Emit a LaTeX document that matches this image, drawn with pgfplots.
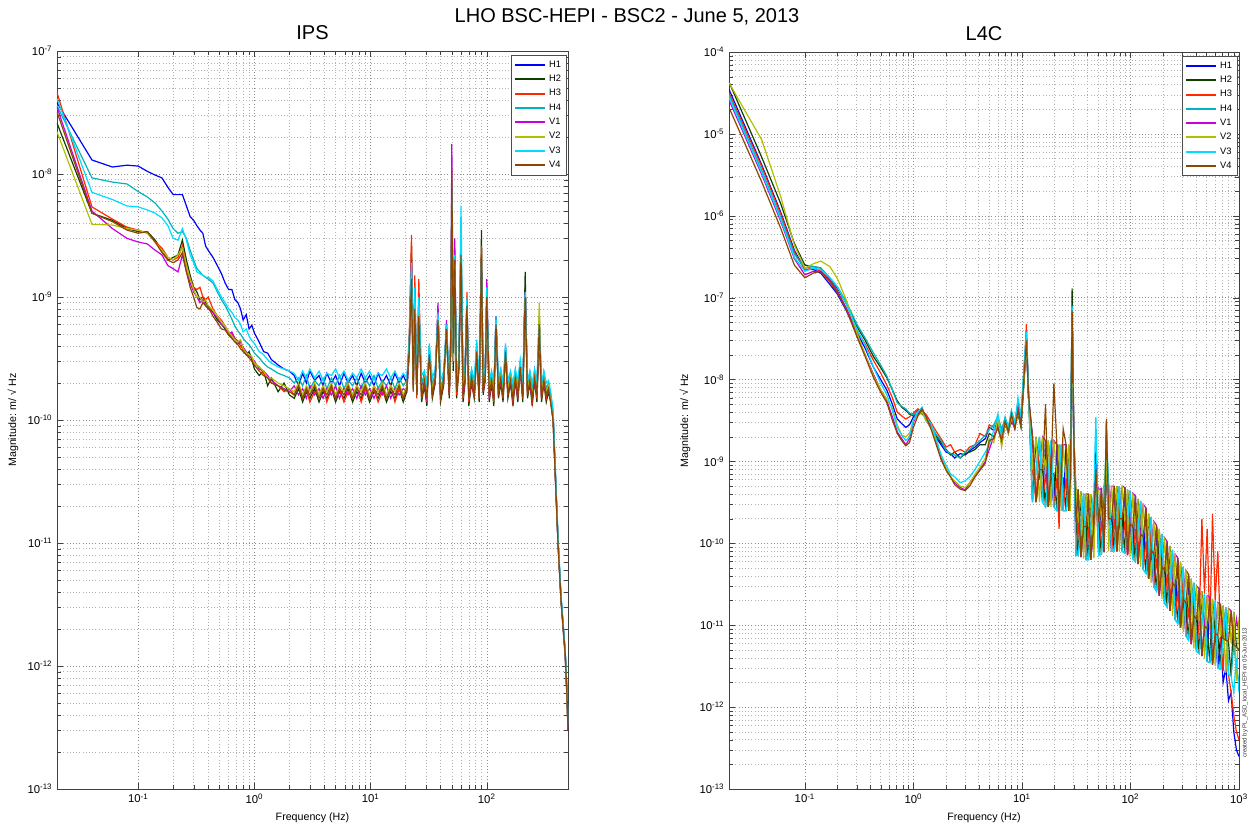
\documentclass[border=0pt]{standalone}
\usepackage{fontspec}
\setmainfont{Liberation Sans}
\usepackage{pgfplots}
\usepackage{pgfplotstable}
\pgfplotsset{compat=1.18}

\definecolor{cHa}{RGB}{0,0,255}
\definecolor{cHb}{RGB}{16,64,0}
\definecolor{cHc}{RGB}{255,40,0}
\definecolor{cHd}{RGB}{0,180,190}
\definecolor{cVa}{RGB}{200,0,220}
\definecolor{cVb}{RGB}{180,190,0}
\definecolor{cVc}{RGB}{0,220,255}
\definecolor{cVd}{RGB}{140,70,0}

% IPS spectra
\pgfplotstableread{
f H1 H2 H3 H4 V1 V2 V3 V4
0.02 3.8e-8 2.6e-8 4.6e-8 3.6e-8 3.5e-8 2.2e-8 4.1e-8 3.2e-8
0.04 1.3e-8 4.8e-9 5.4e-9 9.3e-9 5.0e-9 3.9e-9 7.1e-9 4.8e-9
0.06 1.14e-8 4.2e-9 4.3e-9 8.6e-9 3.6e-9 3.85e-9 6.2e-9 4.1e-9
0.08 1.18e-8 3.6e-9 3.7e-9 8.3e-9 3.0e-9 3.6e-9 5.5e-9 3.5e-9
0.10 1.16e-8 3.4e-9 3.5e-9 7.2e-9 2.8e-9 3.5e-9 5.4e-9 3.3e-9
0.12 1.05e-8 3.4e-9 3.3e-9 6.5e-9 2.7e-9 3.3e-9 5.1e-9 3.4e-9
0.14 9.8e-9 2.9e-9 2.8e-9 5.8e-9 2.4e-9 2.8e-9 4.8e-9 2.8e-9
0.16 9.3e-9 2.4e-9 2.5e-9 5.0e-9 2.2e-9 2.4e-9 4.4e-9 2.3e-9
0.18 7.8e-9 2.0e-9 2.1e-9 4.3e-9 1.8e-9 2.1e-9 3.8e-9 2.0e-9
0.20 6.8e-9 2.1e-9 2.0e-9 3.6e-9 1.7e-9 2.0e-9 3.0e-9 1.9e-9
0.22 6.8e-9 2.2e-9 2.1e-9 3.3e-9 1.6e-9 2.2e-9 2.9e-9 2.0e-9
0.24 6.8e-9 2.9e-9 2.6e-9 3.4e-9 2.2e-9 2.5e-9 3.6e-9 2.3e-9
0.26 5.5e-9 2.0e-9 1.8e-9 3.0e-9 1.6e-9 1.8e-9 2.9e-9 1.6e-9
0.28 4.5e-9 1.5e-9 1.4e-9 2.4e-9 1.3e-9 1.4e-9 2.2e-9 1.2e-9
0.30 4.2e-9 1.2e-9 1.2e-9 2.0e-9 1.1e-9 1.15e-9 1.9e-9 1.0e-9
0.32 3.8e-9 1.1e-9 1.15e-9 1.7e-9 1.0e-9 1.0e-9 1.6e-9 8.2e-10
0.34 3.5e-9 9.5e-10 1.2e-9 1.6e-9 9.0e-10 1.0e-9 1.55e-9 8.0e-10
0.36 3.3e-9 1.0e-9 1.0e-9 1.5e-9 9.5e-10 9.0e-10 1.5e-9 9.0e-10
0.38 2.6e-9 9.0e-10 9.5e-10 1.45e-9 8.5e-10 9.5e-10 1.45e-9 8.5e-10
0.40 2.4e-9 8.5e-10 1.0e-9 1.4e-9 8.0e-10 8.5e-10 1.45e-9 8.3e-10
0.44 2.1e-9 7.5e-10 8.0e-10 1.3e-9 7.5e-10 7.8e-10 1.35e-9 7.0e-10
0.48 1.8e-9 6.5e-10 7.0e-10 1.1e-9 6.8e-10 7.0e-10 1.15e-9 6.2e-10
0.52 1.55e-9 6.0e-10 6.5e-10 9.5e-10 6.0e-10 6.3e-10 1.0e-9 5.5e-10
0.56 1.3e-9 5.5e-10 5.8e-10 8.5e-10 5.6e-10 5.8e-10 9.0e-10 5.4e-10
0.60 1.15e-9 5.0e-10 5.2e-10 7.5e-10 5.0e-10 5.2e-10 8.0e-10 4.9e-10
0.64 1.15e-9 4.7e-10 5.0e-10 6.6e-10 5.2e-10 4.8e-10 7.5e-10 4.6e-10
0.68 9.5e-10 4.5e-10 4.6e-10 5.8e-10 4.6e-10 4.5e-10 6.8e-10 4.3e-10
0.72 9.0e-10 4.2e-10 4.4e-10 5.3e-10 4.2e-10 4.3e-10 6.5e-10 4.1e-10
0.76 8.0e-10 4.4e-10 4.0e-10 5.0e-10 4.3e-10 4.5e-10 6.0e-10 3.8e-10
0.80 6.5e-10 3.7e-10 3.8e-10 4.6e-10 3.9e-10 3.8e-10 5.2e-10 3.6e-10
0.85 7.2e-10 3.4e-10 3.5e-10 4.3e-10 3.6e-10 3.5e-10 5.5e-10 3.4e-10
0.90 5.5e-10 3.6e-10 3.3e-10 4.1e-10 3.3e-10 3.4e-10 4.8e-10 3.2e-10
0.95 5.9e-10 3.1e-10 3.2e-10 3.8e-10 3.2e-10 3.3e-10 4.4e-10 3.0e-10
1.0 5.1e-10 2.6e-10 2.9e-10 3.5e-10 3.0e-10 2.9e-10 4.2e-10 2.8e-10
1.1 4.3e-10 2.3e-10 2.7e-10 3.2e-10 2.6e-10 2.7e-10 3.6e-10 2.5e-10
1.2 3.6e-10 2.5e-10 2.4e-10 2.9e-10 2.5e-10 2.5e-10 3.4e-10 2.3e-10
1.3 3.5e-10 1.9e-10 2.2e-10 2.7e-10 2.3e-10 2.2e-10 3.1e-10 2.2e-10
1.4 3.1e-10 2.2e-10 2.0e-10 2.6e-10 2.1e-10 2.2e-10 2.9e-10 2.0e-10
1.6 2.8e-10 1.7e-10 1.9e-10 2.4e-10 1.9e-10 2.0e-10 2.7e-10 1.9e-10
1.8 2.6e-10 2.0e-10 1.7e-10 2.3e-10 1.8e-10 1.9e-10 2.6e-10 1.75e-10
2.0 2.5e-10 1.6e-10 1.8e-10 2.2e-10 1.7e-10 1.8e-10 2.5e-10 1.7e-10
2.2 2.3e-10 1.5e-10 1.6e-10 2.0e-10 1.9e-10 1.7e-10 2.4e-10 1.6e-10
2.4 1.9e-10 1.8e-10 1.9e-10 2.2e-10 1.6e-10 2.0e-10 2.1e-10 1.9e-10
2.6 2.4e-10 1.4e-10 1.5e-10 1.9e-10 1.8e-10 1.6e-10 2.5e-10 1.5e-10
2.8 2.0e-10 1.7e-10 1.8e-10 2.3e-10 1.5e-10 1.9e-10 2.2e-10 1.8e-10
3.0 2.5e-10 1.5e-10 1.4e-10 1.8e-10 1.9e-10 1.7e-10 2.6e-10 1.6e-10
3.3 2.1e-10 1.8e-10 1.7e-10 2.1e-10 1.6e-10 2.0e-10 2.2e-10 1.9e-10
3.6 2.3e-10 1.4e-10 1.6e-10 1.9e-10 1.8e-10 1.6e-10 2.5e-10 1.5e-10
3.9 1.9e-10 1.7e-10 1.9e-10 2.2e-10 1.5e-10 1.9e-10 2.1e-10 1.8e-10
4.2 2.4e-10 1.5e-10 1.4e-10 1.8e-10 1.8e-10 1.7e-10 2.4e-10 1.6e-10
4.6 2.0e-10 1.8e-10 1.8e-10 2.2e-10 1.6e-10 2.0e-10 2.3e-10 1.9e-10
5.0 2.3e-10 1.4e-10 1.5e-10 1.9e-10 1.9e-10 1.6e-10 2.6e-10 1.5e-10
5.4 1.9e-10 1.7e-10 1.8e-10 2.3e-10 1.5e-10 1.9e-10 2.2e-10 1.8e-10
5.9 2.4e-10 1.5e-10 1.4e-10 1.8e-10 1.8e-10 1.7e-10 2.5e-10 1.6e-10
6.4 2.0e-10 1.8e-10 1.7e-10 2.1e-10 1.6e-10 2.0e-10 2.1e-10 1.9e-10
7.0 2.3e-10 1.4e-10 1.5e-10 1.9e-10 1.8e-10 1.6e-10 2.4e-10 1.5e-10
7.6 1.9e-10 1.7e-10 1.9e-10 2.2e-10 1.5e-10 1.9e-10 2.2e-10 1.8e-10
8.3 2.4e-10 1.5e-10 1.4e-10 1.8e-10 1.9e-10 1.7e-10 2.6e-10 1.6e-10
9.0 2.0e-10 1.8e-10 1.8e-10 2.2e-10 1.6e-10 2.0e-10 2.2e-10 1.9e-10
9.8 2.3e-10 1.4e-10 1.5e-10 1.9e-10 1.8e-10 1.6e-10 2.5e-10 1.5e-10
10.7 1.9e-10 1.7e-10 1.8e-10 2.3e-10 1.5e-10 1.9e-10 2.1e-10 1.8e-10
11.6 2.4e-10 1.5e-10 1.4e-10 1.8e-10 1.8e-10 1.7e-10 2.4e-10 1.6e-10
12.6 2.0e-10 1.8e-10 1.7e-10 2.1e-10 1.6e-10 2.0e-10 2.3e-10 1.9e-10
13.7 2.3e-10 1.4e-10 1.5e-10 1.9e-10 1.9e-10 1.6e-10 2.6e-10 1.5e-10
14.9 1.9e-10 1.7e-10 1.9e-10 2.2e-10 1.5e-10 1.9e-10 2.2e-10 1.8e-10
16.2 2.4e-10 1.5e-10 1.4e-10 1.8e-10 1.8e-10 1.7e-10 2.5e-10 1.6e-10
17.6 2.0e-10 1.8e-10 1.8e-10 2.2e-10 1.6e-10 2.0e-10 2.1e-10 1.9e-10
19.1 2.3e-10 1.4e-10 1.5e-10 1.9e-10 1.8e-10 1.6e-10 2.4e-10 1.5e-10
20.5 2.0e-10 1.7e-10 1.8e-10 2.1e-10 1.7e-10 1.9e-10 2.2e-10 1.8e-10
21.5 4.0e-10 3.5e-10 5.0e-10 4.0e-10 3.5e-10 4.0e-10 4.5e-10 3.8e-10
22.5 1.5e-9 2.6e-9 3.2e-9 1.8e-9 2.0e-9 1.6e-9 1.9e-9 1.4e-9
23.3 2.0e-10 1.8e-10 2.2e-10 2.3e-10 1.9e-10 1.8e-10 2.5e-10 1.7e-10
24.0 9.0e-10 1.2e-9 1.5e-9 1.0e-9 1.1e-9 1.0e-9 1.2e-9 8.0e-10
25.0 1.8e-10 1.6e-10 1.5e-10 2.0e-10 1.7e-10 1.8e-10 2.2e-10 1.6e-10
26.0 7.0e-10 9.0e-10 1.4e-9 8.0e-10 8.5e-10 7.0e-10 1.0e-9 7.0e-10
27.5 1.7e-10 1.4e-10 1.5e-10 2.0e-10 1.6e-10 1.7e-10 2.3e-10 1.5e-10
29.0 2.4e-10 1.9e-10 2.0e-10 2.3e-10 2.0e-10 2.2e-10 2.5e-10 2.1e-10
30.5 1.6e-10 1.3e-10 1.4e-10 1.8e-10 1.5e-10 1.6e-10 2.0e-10 1.5e-10
32.0 3.5e-10 4.0e-10 3.8e-10 3.2e-10 3.6e-10 3.3e-10 4.2e-10 3.4e-10
34.0 1.7e-10 1.5e-10 1.6e-10 1.9e-10 1.7e-10 1.8e-10 2.2e-10 1.6e-10
36.0 2.4e-10 2.0e-10 2.1e-10 2.4e-10 2.0e-10 2.2e-10 2.6e-10 2.2e-10
38.0 6.0e-10 8.0e-10 7.0e-10 6.5e-10 9.0e-10 6.0e-10 7.5e-10 6.5e-10
40.0 1.6e-10 1.4e-10 1.5e-10 1.8e-10 1.6e-10 1.7e-10 2.1e-10 1.5e-10
42.5 2.3e-10 1.9e-10 2.0e-10 2.3e-10 2.0e-10 2.1e-10 2.5e-10 2.1e-10
45.0 5.0e-10 6.0e-10 5.5e-10 4.5e-10 6.5e-10 5.0e-10 6.0e-10 5.5e-10
47.5 1.7e-10 1.5e-10 1.6e-10 1.9e-10 1.7e-10 1.8e-10 2.2e-10 1.6e-10
49.0 4.0e-10 3.5e-10 4.5e-10 4.0e-10 5.0e-10 4.0e-10 5.0e-10 4.5e-10
50.0 5.0e-9 7.0e-9 6.0e-9 5.5e-9 1.75e-8 6.0e-9 9.0e-9 1.1e-8
51.5 3.0e-10 2.5e-10 3.0e-10 3.2e-10 4.0e-10 3.0e-10 3.5e-10 3.5e-10
53.0 1.5e-9 2.0e-9 2.5e-9 1.8e-9 3.0e-9 1.8e-9 2.2e-9 2.0e-9
55.0 1.8e-10 1.5e-10 1.6e-10 2.0e-10 1.8e-10 1.9e-10 2.3e-10 1.7e-10
57.5 3.0e-10 2.5e-10 2.6e-10 3.0e-10 2.8e-10 2.9e-10 3.2e-10 2.7e-10
60.0 2.5e-9 2.0e-9 3.0e-9 2.8e-9 2.5e-9 3.0e-9 5.5e-9 2.2e-9
62.5 1.7e-10 1.4e-10 1.5e-10 1.9e-10 1.6e-10 1.8e-10 2.2e-10 1.6e-10
65.0 2.6e-10 2.0e-10 2.2e-10 2.4e-10 2.1e-10 2.3e-10 2.7e-10 2.2e-10
67.5 9.0e-10 1.0e-9 1.1e-9 8.0e-10 9.0e-10 8.0e-10 1.0e-9 8.5e-10
70.0 1.6e-10 1.3e-10 1.4e-10 1.8e-10 1.5e-10 1.6e-10 2.0e-10 1.5e-10
74.0 2.5e-10 2.0e-10 2.1e-10 2.4e-10 2.1e-10 2.2e-10 2.6e-10 2.2e-10
78.0 1.7e-10 1.5e-10 1.5e-10 1.9e-10 1.6e-10 1.7e-10 2.1e-10 1.6e-10
82.0 4.0e-10 3.5e-10 3.8e-10 4.2e-10 3.6e-10 3.4e-10 4.5e-10 3.6e-10
86.0 1.6e-10 1.4e-10 1.5e-10 1.8e-10 1.6e-10 1.7e-10 2.0e-10 1.5e-10
90.0 1.5e-9 3.5e-9 2.6e-9 1.8e-9 1.6e-9 1.4e-9 2.0e-9 2.2e-9
93.0 1.8e-10 1.6e-10 1.7e-10 2.0e-10 1.7e-10 1.8e-10 2.2e-10 1.7e-10
97.0 2.6e-10 2.1e-10 2.2e-10 2.5e-10 2.2e-10 2.3e-10 2.7e-10 2.3e-10
100 9.0e-10 1.0e-9 1.1e-9 1.0e-9 1.4e-9 9.0e-10 1.2e-9 1.0e-9
105 1.7e-10 1.4e-10 1.5e-10 1.9e-10 1.6e-10 1.7e-10 2.1e-10 1.6e-10
110 2.4e-10 2.0e-10 2.1e-10 2.3e-10 2.0e-10 2.2e-10 2.5e-10 2.1e-10
115 1.6e-10 1.3e-10 1.4e-10 1.8e-10 1.5e-10 1.6e-10 2.0e-10 1.5e-10
120 6.0e-10 7.0e-10 6.5e-10 5.5e-10 7.0e-10 6.0e-10 7.0e-10 6.0e-10
126 1.8e-10 1.5e-10 1.6e-10 2.0e-10 1.7e-10 1.8e-10 2.2e-10 1.7e-10
132 2.5e-10 2.0e-10 2.1e-10 2.4e-10 2.1e-10 2.3e-10 2.6e-10 2.2e-10
138 1.6e-10 1.4e-10 1.5e-10 1.8e-10 1.6e-10 1.7e-10 2.0e-10 1.5e-10
145 4.0e-10 3.5e-10 3.6e-10 3.8e-10 3.4e-10 3.5e-10 4.2e-10 3.6e-10
152 1.7e-10 1.5e-10 1.6e-10 1.9e-10 1.7e-10 1.8e-10 2.1e-10 1.6e-10
160 2.4e-10 2.0e-10 2.1e-10 2.3e-10 2.0e-10 2.2e-10 2.5e-10 2.1e-10
168 1.6e-10 1.3e-10 1.4e-10 1.8e-10 1.5e-10 1.6e-10 2.0e-10 1.5e-10
176 2.5e-10 2.1e-10 2.2e-10 2.4e-10 2.1e-10 2.3e-10 2.6e-10 2.2e-10
185 1.7e-10 1.4e-10 1.5e-10 1.9e-10 1.6e-10 1.7e-10 2.1e-10 1.6e-10
194 3.0e-10 2.6e-10 2.7e-10 2.9e-10 2.5e-10 2.6e-10 3.1e-10 2.7e-10
204 1.6e-10 1.4e-10 1.5e-10 1.8e-10 1.6e-10 1.7e-10 2.0e-10 1.5e-10
214 1.2e-9 1.6e-9 1.0e-9 9.0e-10 1.1e-9 1.0e-9 1.1e-9 1.0e-9
224 1.7e-10 1.5e-10 1.6e-10 1.9e-10 1.7e-10 1.8e-10 2.1e-10 1.6e-10
235 2.4e-10 2.0e-10 2.1e-10 2.3e-10 2.0e-10 2.2e-10 2.5e-10 2.1e-10
246 1.6e-10 1.3e-10 1.4e-10 1.8e-10 1.5e-10 1.6e-10 2.0e-10 1.5e-10
258 2.5e-10 2.1e-10 2.2e-10 2.4e-10 2.1e-10 2.3e-10 2.6e-10 2.2e-10
270 1.7e-10 1.4e-10 1.5e-10 1.9e-10 1.6e-10 1.7e-10 2.1e-10 1.6e-10
283 7.0e-10 5.0e-10 5.5e-10 5.0e-10 6.0e-10 9.0e-10 6.0e-10 6.0e-10
296 1.6e-10 1.4e-10 1.5e-10 1.8e-10 1.6e-10 1.7e-10 2.0e-10 1.5e-10
310 2.4e-10 2.0e-10 2.1e-10 2.3e-10 2.0e-10 2.2e-10 2.5e-10 2.1e-10
325 1.7e-10 1.4e-10 1.5e-10 1.8e-10 1.6e-10 1.7e-10 2.0e-10 1.6e-10
340 1.9e-10 1.7e-10 1.8e-10 2.0e-10 1.8e-10 1.9e-10 2.1e-10 1.8e-10
355 1.5e-10 1.4e-10 1.4e-10 1.6e-10 1.5e-10 1.5e-10 1.7e-10 1.4e-10
372 1.1e-10 1.0e-10 1.0e-10 1.2e-10 1.1e-10 1.1e-10 1.2e-10 1.0e-10
390 3.5e-11 3.2e-11 3.3e-11 3.6e-11 3.4e-11 3.5e-11 3.8e-11 3.3e-11
411 1.0e-11 9.5e-12 9.8e-12 1.05e-11 1.0e-11 1.0e-11 1.1e-11 9.6e-12
436 3.5e-12 3.3e-12 3.4e-12 3.6e-12 3.5e-12 3.5e-12 3.7e-12 3.4e-12
473 1.3e-12 1.2e-12 1.25e-12 1.3e-12 1.3e-12 1.3e-12 1.35e-12 1.25e-12
490 6.0e-13 5.5e-13 5.8e-13 6.2e-13 6.0e-13 6.0e-13 6.5e-13 5.8e-13
500 3.2e-13 3.0e-13 3.1e-13 3.3e-13 3.2e-13 3.2e-13 3.4e-13 3.0e-13
}\ipsdata

% L4C spectra
\pgfplotstableread{
f H1 H2 H3 H4 V1 V2 V3 V4
0.02 3.5e-5 4.3e-5 3.2e-5 3.0e-5 2.6e-5 4.2e-5 2.8e-5 2.1e-5
0.04 4.2e-6 5.2e-6 4.0e-6 3.6e-6 3.2e-6 8.5e-6 3.4e-6 2.6e-6
0.06 1.1e-6 1.4e-6 1.05e-6 9.5e-7 8.5e-7 1.7e-6 9.0e-7 7.0e-7
0.08 3.8e-7 4.6e-7 3.6e-7 3.4e-7 3.0e-7 4.4e-7 3.1e-7 2.5e-7
0.10 2.2e-7 2.5e-7 2.2e-7 2.3e-7 1.9e-7 2.3e-7 2.1e-7 1.75e-7
0.12 2.2e-7 2.4e-7 2.3e-7 2.4e-7 2.1e-7 2.6e-7 2.3e-7 2.0e-7
0.14 2.0e-7 2.3e-7 2.1e-7 2.3e-7 2.1e-7 2.8e-7 2.2e-7 2.1e-7
0.17 1.45e-7 1.7e-7 1.55e-7 1.75e-7 1.65e-7 2.4e-7 1.75e-7 1.6e-7
0.20 1.1e-7 1.3e-7 1.15e-7 1.35e-7 1.2e-7 1.7e-7 1.35e-7 1.15e-7
0.24 7.0e-8 8.5e-8 7.5e-8 9.0e-8 7.5e-8 9.5e-8 8.5e-8 7.2e-8
0.30 3.8e-8 4.5e-8 4.0e-8 4.8e-8 3.6e-8 3.8e-8 4.2e-8 3.4e-8
0.36 2.4e-8 3.0e-8 2.7e-8 3.2e-8 2.0e-8 2.0e-8 2.6e-8 1.9e-8
0.43 1.4e-8 1.9e-8 1.7e-8 2.1e-8 1.15e-8 1.1e-8 1.4e-8 1.05e-8
0.50 1.0e-8 1.4e-8 1.2e-8 1.5e-8 7.5e-9 7.5e-9 9.0e-9 7.0e-9
0.57 7.4e-9 1.05e-8 8.5e-9 1.1e-8 5.5e-9 5.7e-9 6.5e-9 5.2e-9
0.64 5.0e-9 7.5e-9 6.0e-9 7.5e-9 3.5e-9 4.5e-9 4.2e-9 3.2e-9
0.71 3.3e-9 5.5e-9 4.0e-9 5.2e-9 2.3e-9 2.8e-9 2.6e-9 2.2e-9
0.78 2.9e-9 4.6e-9 3.6e-9 4.7e-9 1.9e-9 2.1e-9 2.1e-9 1.8e-9
0.85 2.6e-9 4.2e-9 3.3e-9 4.4e-9 1.6e-9 2.0e-9 1.8e-9 1.55e-9
0.92 2.8e-9 3.8e-9 3.5e-9 3.9e-9 1.9e-9 2.2e-9 2.0e-9 1.7e-9
1.0 3.5e-9 3.6e-9 3.9e-9 3.7e-9 3.0e-9 3.2e-9 3.2e-9 2.6e-9
1.1 3.8e-9 4.2e-9 4.4e-9 4.1e-9 3.9e-9 3.6e-9 4.0e-9 3.6e-9
1.2 4.5e-9 3.8e-9 4.0e-9 4.4e-9 4.2e-9 4.0e-9 4.6e-9 4.4e-9
1.3 3.2e-9 3.5e-9 3.8e-9 3.3e-9 3.4e-9 3.2e-9 3.4e-9 3.6e-9
1.45 2.6e-9 2.8e-9 3.0e-9 2.7e-9 2.7e-9 2.6e-9 2.9e-9 2.5e-9
1.6 2.0e-9 2.1e-9 2.4e-9 2.2e-9 1.8e-9 1.9e-9 2.0e-9 1.7e-9
1.8 1.6e-9 1.7e-9 1.9e-9 1.8e-9 1.1e-9 1.2e-9 1.2e-9 1.05e-9
2.0 1.3e-9 1.4e-9 1.5e-9 1.35e-9 8.0e-10 8.5e-10 9.0e-10 7.8e-10
2.2 1.25e-9 1.2e-9 1.6e-9 1.25e-9 6.5e-10 6.5e-10 7.0e-10 6.5e-10
2.4 1.1e-9 1.3e-9 1.3e-9 1.2e-9 5.5e-10 5.8e-10 6.5e-10 5.2e-10
2.7 1.25e-9 1.1e-9 1.4e-9 1.1e-9 4.8e-10 5.0e-10 5.5e-10 4.6e-10
3.0 1.2e-9 1.25e-9 1.3e-9 1.3e-9 4.5e-10 4.8e-10 5.8e-10 4.4e-10
3.3 1.35e-9 1.3e-9 1.5e-9 1.4e-9 5.5e-10 5.5e-10 6.5e-10 5.0e-10
3.7 1.5e-9 1.4e-9 1.6e-9 1.6e-9 6.5e-10 7.0e-10 8.0e-10 6.5e-10
4.1 1.7e-9 1.6e-9 2.2e-9 1.8e-9 8.0e-10 8.5e-10 1.0e-9 7.8e-10
4.6 1.9e-9 1.6e-9 2.0e-9 2.1e-9 1.0e-9 1.1e-9 1.3e-9 9.5e-10
5.0 2.6e-9 2.2e-9 2.8e-9 2.5e-9 1.4e-9 1.9e-9 1.6e-9 1.8e-9
5.5 2.4e-9 2.0e-9 2.6e-9 2.8e-9 2.0e-9 1.7e-9 2.4e-9 1.9e-9
6.0 3.2e-9 2.6e-9 3.4e-9 3.6e-9 3.0e-9 3.4e-9 3.8e-9 2.6e-9
6.5 2.2e-9 1.8e-9 2.5e-9 2.4e-9 1.6e-9 1.5e-9 2.0e-9 1.8e-9
7.0 3.0e-9 2.8e-9 3.2e-9 3.5e-9 2.8e-9 3.0e-9 3.3e-9 3.1e-9
7.5 2.2e-9 2.5e-9 2.4e-9 2.6e-9 2.4e-9 2.2e-9 2.6e-9 2.3e-9
8.0 3.4e-9 3.0e-9 3.6e-9 4.2e-9 3.2e-9 3.4e-9 4.0e-9 3.8e-9
8.6 2.6e-9 2.7e-9 2.8e-9 3.0e-9 2.5e-9 2.7e-9 2.9e-9 2.5e-9
9.2 4.5e-9 3.8e-9 5.0e-9 5.5e-9 4.4e-9 4.0e-9 6.0e-9 4.2e-9
9.8 2.8e-9 2.6e-9 3.2e-9 3.4e-9 3.0e-9 2.8e-9 3.6e-9 2.8e-9
10.5 1.1e-8 1.0e-8 1.4e-8 1.5e-8 1.2e-8 1.1e-8 1.6e-8 1.2e-8
11.0 2.8e-8 3.0e-8 4.8e-8 3.5e-8 3.2e-8 2.8e-8 3.8e-8 3.0e-8
11.5 6.0e-9 6.5e-9 7.0e-9 7.5e-9 6.0e-9 6.5e-9 8.0e-9 6.5e-9
12.5 2.0e-9 3.2e-10 7.9e-10 3.2e-10 2.0e-9 7.9e-10 3.2e-10 2.0e-9
13.5 3.2e-10 2.0e-9 3.2e-10 7.9e-10 3.2e-10 2.0e-9 7.9e-10 3.2e-10
14.5 7.9e-10 7.9e-10 2.0e-9 2.0e-9 7.9e-10 3.2e-10 2.0e-9 7.9e-10
15.5 3.2e-10 7.9e-10 3.2e-10 3.2e-10 2.0e-9 2.0e-9 3.2e-10 7.9e-10
16.5 1.8e-9 2.8e-10 7.1e-10 2.8e-10 1.8e-9 7.1e-10 2.8e-10 5.0e-9
17.5 2.8e-10 1.8e-9 2.8e-10 7.1e-10 2.8e-10 1.8e-9 7.1e-10 2.8e-10
18.5 7.1e-10 7.1e-10 1.8e-9 1.8e-9 7.1e-10 2.8e-10 1.8e-9 7.1e-10
19.7 2.8e-10 7.1e-10 2.8e-10 2.8e-10 1.8e-9 1.8e-9 2.8e-10 9.0e-9
21 1.6e-9 2.5e-10 6.3e-10 2.5e-10 1.6e-9 6.3e-10 2.5e-10 1.6e-9
22 2.5e-10 1.6e-9 1.5e-10 6.3e-10 2.5e-10 1.6e-9 6.3e-10 2.5e-10
23 6.3e-10 6.3e-10 1.6e-9 1.6e-9 6.3e-10 2.5e-10 1.6e-9 6.3e-10
24 2.5e-10 6.3e-10 2.5e-10 2.5e-10 1.6e-9 1.6e-9 2.5e-10 2.5e-9
25.5 1.6e-9 2.5e-10 6.3e-10 2.5e-10 1.6e-9 6.3e-10 2.5e-10 1.6e-9
27 2.5e-10 1.6e-9 2.5e-10 6.3e-10 2.5e-10 1.6e-9 6.3e-10 2.5e-10
28 6.3e-10 6.3e-10 1.6e-9 1.6e-9 6.3e-10 2.5e-10 1.6e-9 6.3e-10
29 4.5e-8 1.3e-7 6.5e-8 7.0e-8 5.5e-8 6.0e-8 8.0e-8 7.0e-8
30 2.0e-9 3.0e-9 2.5e-9 2.5e-9 2.0e-9 2.2e-9 2.6e-9 2.4e-9
31.5 7.1e-11 1.8e-10 7.1e-11 7.1e-11 4.5e-10 4.5e-10 7.1e-11 1.8e-10
33 4.5e-10 7.1e-11 1.8e-10 7.1e-11 4.5e-10 1.8e-10 7.1e-11 4.5e-10
35 6.8e-11 4.3e-10 6.8e-11 1.7e-10 6.8e-11 4.3e-10 1.7e-10 6.8e-11
37 1.6e-10 1.6e-10 4.1e-10 4.1e-10 1.6e-10 6.5e-11 4.1e-10 1.6e-10
39 6.3e-11 1.6e-10 6.3e-11 6.3e-11 4.0e-10 4.0e-10 6.3e-11 1.6e-10
41 4.0e-10 6.3e-11 1.6e-10 6.3e-11 4.0e-10 1.6e-10 6.3e-11 4.0e-10
43 6.3e-11 4.0e-10 6.3e-11 1.6e-10 6.3e-11 4.0e-10 1.6e-10 6.3e-11
46 1.66e-10 1.66e-10 4.2e-10 4.2e-10 1.66e-10 6.6e-11 4.2e-10 1.66e-10
48 2.5e-9 3.0e-10 4.0e-10 5.0e-10 6.0e-10 4.0e-10 3.5e-9 8.0e-10
51 7.1e-11 1.8e-10 7.1e-11 7.1e-11 4.5e-10 4.5e-10 7.1e-11 1.8e-10
54 4.7e-10 7.4e-11 1.9e-10 7.4e-11 4.7e-10 1.9e-10 7.4e-11 4.7e-10
57 7.8e-11 4.9e-10 7.8e-11 1.95e-10 7.8e-11 4.9e-10 1.95e-10 7.8e-11
60 8.0e-10 7.0e-10 1.0e-9 1.5e-9 3.0e-9 1.2e-9 2.5e-9 3.3e-9
63 2.0e-10 2.0e-10 5.0e-10 5.0e-10 2.0e-10 8.0e-11 5.0e-10 2.0e-10
67 8.0e-11 2.0e-10 8.0e-11 8.0e-11 5.0e-10 5.0e-10 8.0e-11 2.0e-10
71 5.0e-10 8.0e-11 2.0e-10 8.0e-11 5.0e-10 2.0e-10 8.0e-11 5.0e-10
75 8.0e-11 5.0e-10 8.0e-11 2.0e-10 8.0e-11 5.0e-10 2.0e-10 8.0e-11
79 2.0e-10 2.0e-10 5.0e-10 5.0e-10 2.0e-10 8.0e-11 5.0e-10 2.0e-10
84 8.0e-11 2.0e-10 8.0e-11 8.0e-11 5.0e-10 5.0e-10 8.0e-11 2.0e-10
89 4.8e-10 7.6e-11 1.9e-10 7.6e-11 4.8e-10 1.9e-10 7.6e-11 4.8e-10
94 7.2e-11 4.6e-10 7.2e-11 1.8e-10 7.2e-11 4.6e-10 1.8e-10 7.2e-11
99 1.74e-10 1.74e-10 4.4e-10 4.4e-10 1.74e-10 6.9e-11 4.4e-10 1.74e-10
105 6.5e-11 1.6e-10 6.5e-11 6.5e-11 4.1e-10 4.1e-10 6.5e-11 1.6e-10
111 3.8e-10 6.0e-11 1.5e-10 6.0e-11 3.8e-10 1.5e-10 6.0e-11 3.8e-10
117 5.6e-11 3.5e-10 5.6e-11 1.4e-10 5.6e-11 3.5e-10 1.4e-10 5.6e-11
124 1.3e-10 1.3e-10 3.3e-10 3.3e-10 1.3e-10 5.2e-11 3.3e-10 1.3e-10
131 4.8e-11 1.2e-10 4.8e-11 4.8e-11 3.0e-10 3.0e-10 4.8e-11 1.2e-10
139 2.7e-10 4.3e-11 1.07e-10 4.3e-11 2.7e-10 1.07e-10 4.3e-11 2.7e-10
147 3.7e-11 2.3e-10 3.7e-11 9.3e-11 3.7e-11 2.3e-10 9.3e-11 3.7e-11
155 8.3e-11 8.3e-11 2.1e-10 2.1e-10 8.3e-11 3.3e-11 2.1e-10 8.3e-11
164 2.95e-11 7.4e-11 2.95e-11 2.95e-11 1.86e-10 1.86e-10 2.95e-11 7.4e-11
174 1.66e-10 2.6e-11 6.6e-11 2.6e-11 1.66e-10 6.6e-11 2.6e-11 1.66e-10
184 2.3e-11 1.5e-10 2.3e-11 5.9e-11 2.3e-11 1.5e-10 5.9e-11 2.3e-11
195 5.2e-11 5.2e-11 1.3e-10 1.3e-10 5.2e-11 2.1e-11 1.3e-10 5.2e-11
206 1.86e-11 4.7e-11 1.86e-11 1.86e-11 1.17e-10 1.17e-10 1.86e-11 4.7e-11
218 1.05e-10 1.66e-11 4.2e-11 1.66e-11 1.05e-10 4.2e-11 1.66e-11 1.05e-10
231 1.5e-11 9.3e-11 1.5e-11 3.7e-11 1.5e-11 9.3e-11 3.7e-11 1.5e-11
244 3.3e-11 3.3e-11 8.3e-11 8.3e-11 3.3e-11 1.3e-11 8.3e-11 3.3e-11
258 1.17e-11 2.95e-11 1.17e-11 1.17e-11 7.4e-11 7.4e-11 1.17e-11 2.95e-11
273 6.6e-11 1.05e-11 2.6e-11 1.05e-11 6.6e-11 2.6e-11 1.05e-11 6.6e-11
289 9.3e-12 5.9e-11 9.3e-12 2.3e-11 9.3e-12 5.9e-11 2.3e-11 9.3e-12
306 2.1e-11 2.1e-11 5.2e-11 5.2e-11 2.1e-11 8.3e-12 5.2e-11 2.1e-11
324 7.4e-12 1.86e-11 7.4e-12 7.4e-12 4.7e-11 4.7e-11 7.4e-12 1.86e-11
343 4.2e-11 6.6e-12 1.66e-11 6.6e-12 4.2e-11 1.66e-11 6.6e-12 4.2e-11
363 5.9e-12 3.7e-11 5.9e-12 1.5e-11 5.9e-12 3.7e-11 1.5e-11 5.9e-12
384 1.3e-11 1.3e-11 3.3e-11 3.3e-11 1.3e-11 5.2e-12 3.3e-11 1.3e-11
406 4.8e-12 1.2e-11 4.8e-12 4.8e-12 3.0e-11 3.0e-11 4.8e-12 1.2e-11
430 2.8e-11 4.5e-12 1.12e-11 4.5e-12 2.8e-11 1.12e-11 4.5e-12 2.8e-11
455 4.2e-12 2.6e-11 2.0e-10 1.05e-11 4.2e-12 2.6e-11 1.05e-11 4.2e-12
481 9.8e-12 9.8e-12 2.45e-11 2.45e-11 9.8e-12 3.9e-12 2.45e-11 9.8e-12
509 3.6e-12 9.1e-12 1.5e-10 3.6e-12 2.3e-11 2.3e-11 3.6e-12 9.1e-12
539 2.2e-11 3.5e-12 8.7e-12 3.5e-12 2.2e-11 8.7e-12 3.5e-12 2.2e-11
570 3.3e-12 2.1e-11 2.3e-10 8.3e-12 3.3e-12 2.1e-11 8.3e-12 3.3e-12
603 7.9e-12 7.9e-12 2.0e-11 2.0e-11 7.9e-12 3.2e-12 2.0e-11 7.9e-12
638 3.0e-12 7.6e-12 8.0e-11 3.0e-12 1.9e-11 1.9e-11 3.0e-12 7.6e-12
675 7.2e-12 2.9e-12 7.2e-12 2.9e-12 1.8e-11 7.2e-12 2.9e-12 1.8e-11
714 2.0e-12 1.74e-11 2.75e-12 6.9e-12 6.9e-12 1.74e-11 6.9e-12 6.9e-12
756 3.0e-12 6.6e-12 1.66e-11 1.66e-11 6.6e-12 2.6e-12 1.66e-11 6.6e-12
800 1.2e-12 6.3e-12 2.5e-12 2.5e-12 1.6e-11 1.6e-11 2.5e-12 6.3e-12
846 1.5e-12 2.4e-12 1.5e-12 2.4e-12 1.5e-11 6.0e-12 2.4e-12 1.5e-11
895 5.0e-13 1.45e-11 8.0e-13 5.8e-12 5.8e-12 1.45e-11 1.5e-12 5.8e-12
947 3.0e-13 5.4e-12 5.0e-13 3.0e-12 1.2e-11 2.1e-12 4.0e-12 5.4e-12
1000 2.5e-13 5.0e-12 4.0e-13 2.0e-12 8.0e-12 1.26e-11 1.5e-12 5.0e-12
}\lfourcdata

\pgfplotsset{
  log number format basis/.code 2 args={#1\textsuperscript{\pgfmathprintnumber[assume math mode=true]{#2}}},
}

\begin{document}
\begin{tikzpicture}
\useasboundingbox (0,0) rectangle (940.5pt,621.75pt);
\node[font=\fontsize{15}{18}\selectfont] at (470.25pt,609pt) {LHO BSC-HEPI - BSC2 - June 5, 2013};

\begin{axis}[
  xmode=log, ymode=log, scale only axis,
  at={(42.75pt,30pt)}, anchor=south west,
  width=383.25pt, height=553.5pt,
  xmin=0.02, xmax=500, ymin=1e-13, ymax=1e-7,
  xtickten={-1,0,1,2}, ytickten={-13,-12,-11,-10,-9,-8,-7},
  grid=both,
  major grid style={dotted,black!45},
  minor grid style={dotted,black!30},
  axis line style={black!75},
  tick style={black!75},
  ticklabel style={font=\fontsize{8.5}{10}\selectfont},
  xlabel={Frequency (Hz)},
  ylabel={Magnitude: m/ √ Hz},
  label style={font=\fontsize{8}{10}\selectfont},
  title={IPS},
  title style={font=\fontsize{15}{18}\selectfont, at={(0.5,1)}, anchor=base, yshift=3pt},
  legend style={at={(1,1)}, anchor=north east, xshift=-1pt, yshift=-3pt,
    font=\fontsize{7}{8.4}\selectfont, draw=black!70, row sep=0.4pt, inner sep=2pt},
  legend cell align=left,
  legend image code/.code={\draw[#1, line width=1.5pt] (0pt,0pt) -- (23pt,0pt);},
  every axis plot/.append style={line width=0.9pt}]
\addplot[cHa] table[x=f,y=H1] {\ipsdata};
\addplot[cHb] table[x=f,y=H2] {\ipsdata};
\addplot[cHc] table[x=f,y=H3] {\ipsdata};
\addplot[cHd] table[x=f,y=H4] {\ipsdata};
\addplot[cVa] table[x=f,y=V1] {\ipsdata};
\addplot[cVb] table[x=f,y=V2] {\ipsdata};
\addplot[cVc] table[x=f,y=V3] {\ipsdata};
\addplot[cVd] table[x=f,y=V4] {\ipsdata};
\legend{H1,H2,H3,H4,V1,V2,V3,V4}
\end{axis}

\begin{axis}[
  xmode=log, ymode=log, scale only axis,
  at={(546.75pt,30pt)}, anchor=south west,
  width=382.5pt, height=552.75pt,
  xmin=0.02, xmax=1000, ymin=1e-13, ymax=1e-4,
  xtickten={-1,0,1,2,3}, ytickten={-13,-12,-11,-10,-9,-8,-7,-6,-5,-4},
  grid=both,
  major grid style={dotted,black!45},
  minor grid style={dotted,black!30},
  axis line style={black!75},
  tick style={black!75},
  ticklabel style={font=\fontsize{8.5}{10}\selectfont},
  xlabel={Frequency (Hz)},
  ylabel={Magnitude: m/ √ Hz},
  label style={font=\fontsize{8}{10}\selectfont},
  title={L4C},
  title style={font=\fontsize{15}{18}\selectfont, at={(0.5,1)}, anchor=base, yshift=3pt},
  legend style={at={(1,1)}, anchor=north east, xshift=-1pt, yshift=-3pt,
    font=\fontsize{7}{8.4}\selectfont, draw=black!70, row sep=0.4pt, inner sep=2pt},
  legend cell align=left,
  legend image code/.code={\draw[#1, line width=1.5pt] (0pt,0pt) -- (23pt,0pt);},
  every axis plot/.append style={line width=0.9pt}]
\addplot[cHa] table[x=f,y=H1] {\lfourcdata};
\addplot[cHb] table[x=f,y=H2] {\lfourcdata};
\addplot[cHc] table[x=f,y=H3] {\lfourcdata};
\addplot[cHd] table[x=f,y=H4] {\lfourcdata};
\addplot[cVa] table[x=f,y=V1] {\lfourcdata};
\addplot[cVb] table[x=f,y=V2] {\lfourcdata};
\addplot[cVc] table[x=f,y=V3] {\lfourcdata};
\addplot[cVd] table[x=f,y=V4] {\lfourcdata};
\legend{H1,H2,H3,H4,V1,V2,V3,V4}
\end{axis}

\node[rotate=90, font=\fontsize{4.5}{5}\selectfont, black!80] at (933.75pt,102pt) {created by PL\_ASD\_local\_HEPI on 05-Jun-2013};
\end{tikzpicture}
\end{document}
